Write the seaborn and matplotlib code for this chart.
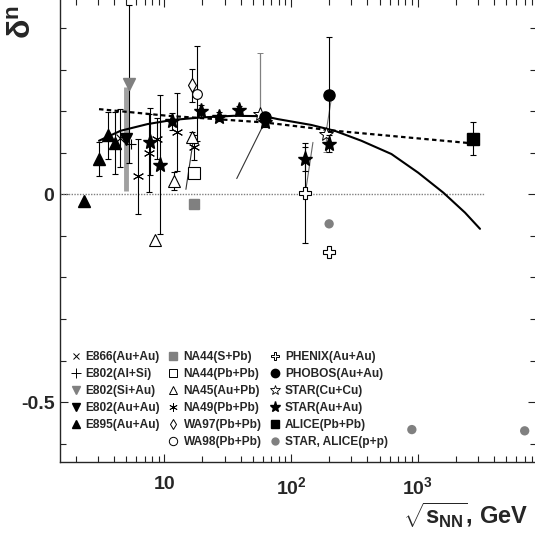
"""
delta^n vs sqrt(s_NN): heavy-ion and p+p compilation with fit curves
"""
import numpy as np
import pandas as pd
import matplotlib
matplotlib.use("Agg")
import matplotlib.pyplot as plt
import seaborn as sns
from matplotlib.lines import Line2D
from matplotlib.ticker import FixedLocator, FixedFormatter, MultipleLocator, LogLocator, NullFormatter

# ---- data ----
e866_x, e866_y, e866_err = [4.47], [0.135], [0.07]
e802_alsi_x, e802_alsi_y = [5.5], [0.12]
e802_siau_x, e802_siau_y, e802_siau_err = [5.24], [0.266], [0.19]
e802_auau_x, e802_auau_y, e802_auau_err = [4.95], [0.133], [0.125]
e895_x = [2.31, 3.05, 3.59, 4.06]
e895_y = [-0.017, 0.086, 0.142, 0.123]
e895_err = [0.0, 0.041, 0.056, 0.075]

na44_spb_x, na44_spb_y = [17.2], [-0.024]
na44_pbpb_x, na44_pbpb_y = [17.2], [0.051]
na45_x = [8.4, 12.0, 16.6]
na45_y = [-0.109, 0.032, 0.139]
na45_err = [0.0, 0.022, 0.012]
na49_x = [6.25, 7.6, 8.8, 12.7, 17.3]
na49_y = [0.043, 0.099, 0.134, 0.15, 0.113]
na49_err = [0.09, 0.094, 0.05, 0.094, 0.03]
wa97_x, wa97_y, wa97_err = [16.5], [0.262], [0.04]
wa98_x, wa98_y, wa98_err = [18.0], [0.242], [0.114]

phenix_x = [130, 200]
phenix_y = [0.004, -0.138]
phenix_err = [0.12, 0.0]
phobos_x = [62.4, 200]
phobos_y = [0.185, 0.239]
phobos_err_lo = [0.01, 0.086]
phobos_err_hi = [0.01, 0.139]
star_cucu_x = [57, 190]
star_cucu_y = [0.193, 0.145]
star_cucu_err_lo = [0.01, 0.044]
star_cucu_err_hi = [0.147, 0.01]
star_auau_x = [7.7, 9.2, 11.5, 19.6, 27, 39, 62.4, 130, 200]
star_auau_y = [0.127, 0.071, 0.176, 0.201, 0.187, 0.203, 0.173, 0.085, 0.122]
star_auau_err = [0.08, 0.167, 0.02, 0.015, 0.01, 0.01, 0.01, 0.03, 0.02]
alice_x, alice_y, alice_err = [2760], [0.134], [0.04]
pp_x = [200, 900, 7000]
pp_y = [-0.071, -0.566, -0.569]

# fit curves
fit_solid_x = [3.05, 4.52, 7.36, 11.6, 19.5, 35.5, 61.4, 78.7, 144.5, 221, 359, 621, 1011, 1596, 2366, 3107]
fit_solid_y = [0.129, 0.153, 0.169, 0.179, 0.185, 0.189, 0.188, 0.181, 0.167, 0.153, 0.129, 0.097, 0.052, 0.004, -0.044, -0.083]
fit_dash_x = [3.05, 10.6, 61.7, 221, 3100]
fit_dash_y = [0.205, 0.189, 0.173, 0.153, 0.121]
zero_x = [1.5, 3390]
zero_y = [0.0, 0.0]

# thin connector segments
seg_x = [[14.8, 17.2], [37.3, 61.9], [130, 149], [190, 208]]
seg_y = [[0.012, 0.145], [0.038, 0.173], [0.004, 0.125], [0.153, 0.229]]
seg_c = ["#333333", "#333333", "#666666", "#777777"]

GREY = "#808080"
ASTER = (6, 2, 0)

sns.set_style("ticks")
plt.rcParams["font.family"] = ["Liberation Sans", "DejaVu Sans"]
plt.rcParams["font.weight"] = "bold"
plt.rcParams["mathtext.fontset"] = "custom"
plt.rcParams["mathtext.rm"] = "Liberation Sans:bold"
plt.rcParams["mathtext.bf"] = "Liberation Sans:bold"
plt.rcParams["mathtext.it"] = "Liberation Sans:bold"

fig = plt.figure(figsize=(5.35, 5.35), dpi=100)
ax = fig.add_axes([60 / 535, 73 / 535, 476 / 535, 463 / 535])
ax.set_xscale("log")

# reference lines and fits
sns.lineplot(x=zero_x, y=zero_y, ax=ax, color=GREY, lw=1.0, linestyle=(0, (1, 1)))
sns.lineplot(x=fit_dash_x, y=fit_dash_y, ax=ax, color="black", lw=1.6,
             linestyle=(0, (2, 1.5)), sort=False, estimator=None)
sns.lineplot(x=fit_solid_x, y=fit_solid_y, ax=ax, color="black", lw=1.5,
             sort=False, estimator=None)
for sx, sy, sc in zip(seg_x, seg_y, seg_c):
    ax.plot(sx, sy, color=sc, lw=0.8)

ebkw = dict(ls="none", elinewidth=0.8, ecolor="black", capsize=2, capthick=0.8)

# grey thick band for E802(Au+Au)
ax.errorbar(e802_auau_x, e802_auau_y, yerr=e802_auau_err, fmt="none",
            ecolor="#a0a0a0", elinewidth=3.5, capsize=0, zorder=1)

ax.errorbar(e866_x, e866_y, yerr=e866_err, fmt="x", color="black", ms=6, mew=0.8, **ebkw)
ax.errorbar(e802_alsi_x, e802_alsi_y, fmt="+", color="black", ms=7, mew=0.8, ls="none")
ax.errorbar(e802_siau_x, e802_siau_y, yerr=e802_siau_err, fmt="v", color=GREY, ms=8, **ebkw)
ax.errorbar(e802_auau_x, e802_auau_y, fmt="v", color="black", ms=8, ls="none")
ax.errorbar(e895_x, e895_y, yerr=e895_err, fmt="^", color="black", ms=8, **ebkw)

ax.errorbar(na44_spb_x, na44_spb_y, fmt="s", color=GREY, ms=7, ls="none")
ax.errorbar(na44_pbpb_x, na44_pbpb_y, fmt="s", mfc="white", mec="black", ms=8, mew=0.8, ls="none")
ax.errorbar(na45_x, na45_y, yerr=na45_err, fmt="^", mfc="white", mec="black", ms=8, mew=0.8, **ebkw)
ax.errorbar(na49_x, na49_y, yerr=na49_err, fmt="none", **ebkw)
ax.plot(na49_x, na49_y, ls="none", marker=ASTER, color="black", ms=8, mew=0.7)
ax.errorbar(wa97_x, wa97_y, yerr=wa97_err, fmt="d", mfc="white", mec="black", ms=7, mew=0.8, **ebkw)
ax.errorbar(wa98_x, wa98_y, yerr=wa98_err, fmt="o", mfc="white", mec="black", ms=7, mew=0.8, **ebkw)

ax.errorbar(phenix_x, phenix_y, yerr=phenix_err, fmt="P", mfc="white", mec="black", ms=8, mew=0.8, **ebkw)
ax.errorbar(star_cucu_x, star_cucu_y, yerr=[star_cucu_err_lo, star_cucu_err_hi], fmt="*",
            mfc="white", mec="black", ms=10, mew=0.7, ls="none", elinewidth=0.9,
            ecolor=GREY, capsize=2, capthick=0.8)
ax.errorbar(phobos_x, phobos_y, yerr=[phobos_err_lo, phobos_err_hi], fmt="o", color="black", ms=8, **ebkw)
ax.errorbar(star_auau_x, star_auau_y, yerr=star_auau_err, fmt="*", color="black", ms=11, zorder=5, **ebkw)
ax.errorbar(alice_x, alice_y, yerr=alice_err, fmt="s", color="black", ms=8, **ebkw)
sns.scatterplot(x=pp_x, y=pp_y, ax=ax, color=GREY, s=45, edgecolor="none", zorder=5)

# axes
ax.set_xlim(1.5, 8600)
ax.set_ylim(-0.644, 0.47)
ax.xaxis.set_major_locator(FixedLocator([10, 100, 1000]))
ax.xaxis.set_major_formatter(FixedFormatter(["10", r"$10^{2}$", r"$10^{3}$"]))
ax.xaxis.set_minor_locator(LogLocator(base=10, subs=np.arange(2, 10), numticks=20))
ax.xaxis.set_minor_formatter(NullFormatter())
ax.yaxis.set_major_locator(FixedLocator([-0.5, 0.0]))
ax.yaxis.set_major_formatter(FixedFormatter(["-0.5", "0"]))
ax.yaxis.set_minor_locator(MultipleLocator(0.1))
ax.tick_params(which="both", direction="in", top=True, right=True, width=0.8, color="#222222")
ax.tick_params(which="major", length=6)
ax.tick_params(which="minor", length=4)
ax.tick_params(axis="x", which="major", labelsize=14, pad=10)
ax.tick_params(axis="y", which="major", labelsize=14, pad=4)
for lab in ax.get_xticklabels() + ax.get_yticklabels():
    lab.set_fontweight("bold")
for side in ["top", "right"]:
    ax.spines[side].set_visible(False)
for side in ["left", "bottom"]:
    ax.spines[side].set_linewidth(1.0)
ax.set_xlabel("")
ax.set_ylabel("")

fig.text(528 / 535, 1 - 515 / 535, r"$\sqrt{\mathbf{s}_{\mathbf{NN}}}$, GeV",
         ha="right", va="center", fontsize=17, fontweight="bold")
fig.text(23 / 535, 1 - 22 / 535, r"$\mathbf{\delta^{n}}$", rotation=90,
         ha="center", va="center", fontsize=23, fontweight="bold")

# legend, 3 columns (first one has 5 entries)
def h(marker, **kw):
    return Line2D([], [], ls="none", marker=marker, **kw)

handles = [
    h("x", color="black", ms=5, mew=0.7),
    h("+", color="black", ms=7, mew=0.7),
    h("v", color=GREY, ms=6),
    h("v", color="black", ms=6),
    h("^", color="black", ms=6),
    Line2D([], [], ls="none"),
    h("s", color=GREY, ms=6),
    h("s", mfc="white", mec="black", ms=6, mew=0.7),
    h("^", mfc="white", mec="black", ms=6, mew=0.7),
    h(ASTER, color="black", ms=6, mew=0.6),
    h("d", mfc="white", mec="black", ms=5, mew=0.7),
    h("o", mfc="white", mec="black", ms=6, mew=0.7),
    h("P", mfc="white", mec="black", ms=6, mew=0.7),
    h("o", color="black", ms=6),
    h("*", mfc="white", mec="black", ms=7, mew=0.6),
    h("*", color="black", ms=8),
    h("s", color="black", ms=6),
    h("o", color=GREY, ms=6, mec="none"),
]
labels = ["E866(Au+Au)", "E802(Al+Si)", "E802(Si+Au)", "E802(Au+Au)", "E895(Au+Au)", "",
          "NA44(S+Pb)", "NA44(Pb+Pb)", "NA45(Au+Pb)", "NA49(Pb+Pb)", "WA97(Pb+Pb)", "WA98(Pb+Pb)",
          "PHENIX(Au+Au)", "PHOBOS(Au+Au)", "STAR(Cu+Cu)", "STAR(Au+Au)", "ALICE(Pb+Pb)",
          "STAR, ALICE(p+p)"]
leg = ax.legend(handles, labels, ncol=3, loc="upper left", bbox_to_anchor=(0.005, 0.255),
                frameon=False, prop={"family": "Liberation Sans", "weight": "bold", "size": 8.6},
                handlelength=1.0, handletextpad=0.35, columnspacing=0.6, labelspacing=0.42,
                borderaxespad=0.2)

fig.savefig("out.png", dpi=100)
